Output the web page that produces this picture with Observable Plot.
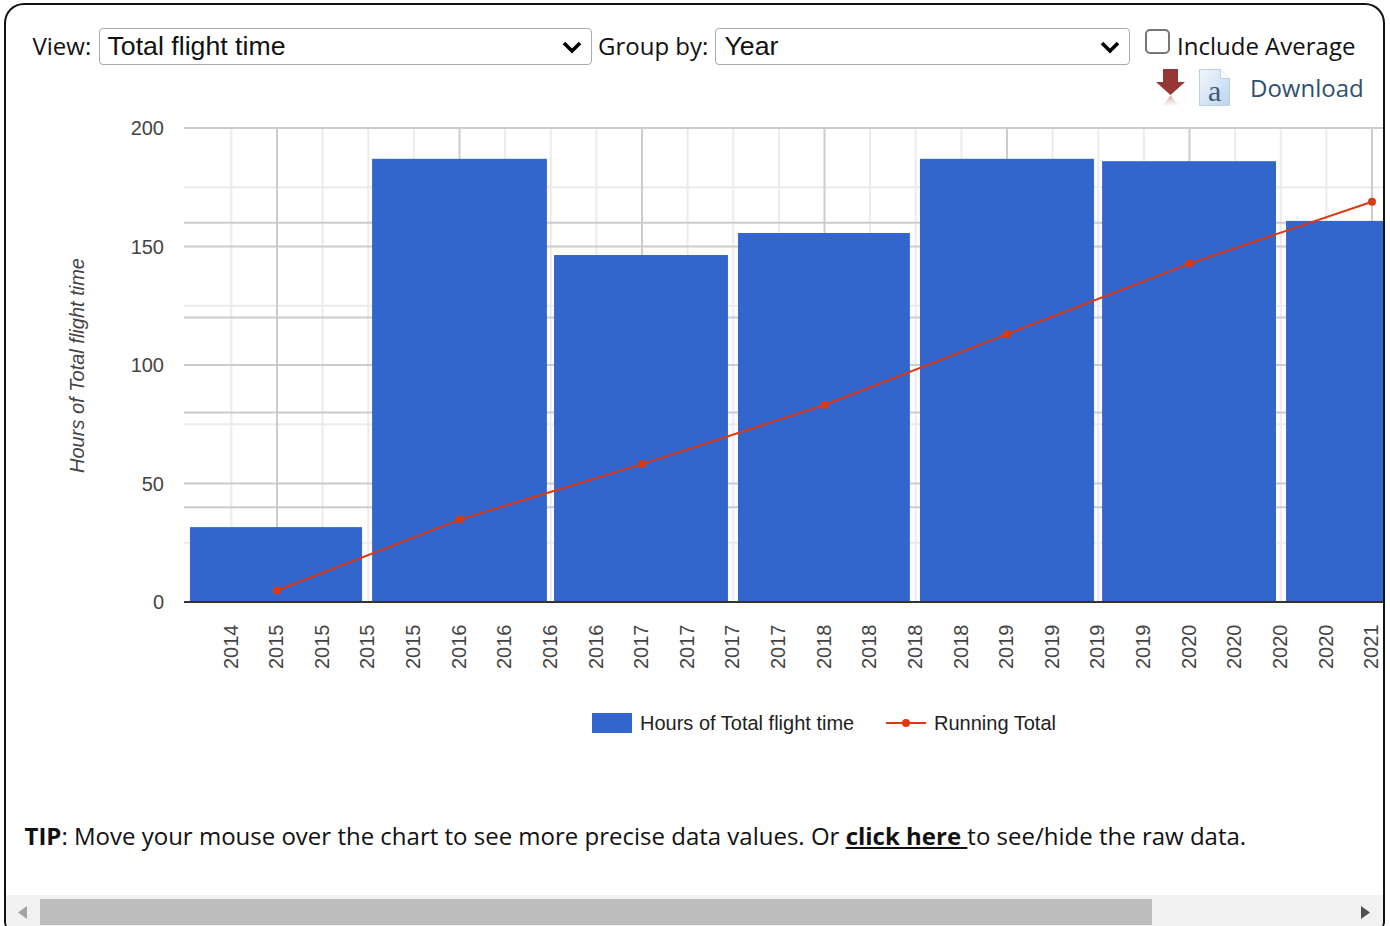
<!DOCTYPE html>
<html><head><meta charset="utf-8">
<script src="https://cdn.jsdelivr.net/npm/d3@7"></script>
<script src="https://cdn.jsdelivr.net/npm/@observablehq/plot@0.6"></script>
<style>
html,body{margin:0;padding:0;background:#fff;overflow:hidden}
#page{position:relative;width:1390px;height:926px;overflow:hidden;font-family:"Open Sans",sans-serif;color:#111}
#frame{position:absolute;left:4px;top:3px;width:1377px;border:2px solid #111;border-radius:20px 20px 0 0;pointer-events:none;z-index:5;border-bottom:0;height:925px;border-bottom-left-radius:8px;border-bottom-right-radius:8px}
.abs{position:absolute;white-space:nowrap}
.sel{position:absolute;box-sizing:border-box;height:37px;top:28px;border:1px solid #aaa;border-radius:4px;background:#fff;font:26.7px "Liberation Sans",Arial,sans-serif;color:#111;padding-left:8px;line-height:35px}
.sel svg{position:absolute;right:9px;top:11px}
#chart{position:absolute;left:0;top:0}
#chart svg{display:block;background:transparent}
#chart [aria-label="y-axis label"]{font-style:italic}
#legend{position:absolute;top:712px;left:592px;height:22px;font:20px "Liberation Sans",Arial,sans-serif;color:#222}
#sb{position:absolute;left:6px;top:895px;width:1377px;height:31px;background:#f1f1f1}
#thumb{position:absolute;left:34px;top:4px;width:1112px;height:26px;background:#bebebe}
</style></head><body>
<div id="page">
  <div class="abs" style="left:32.500px;top:27px;font-size:24px;line-height:37px">View:</div>
  <div class="sel" style="left:99px;width:493px;padding-left:7.500px">Total flight time<svg width="20" height="14" viewBox="0 0 20 14"><path d="M2 3l8 8 8-8" fill="none" stroke="#000" stroke-width="3.6"/></svg></div>
  <div class="abs" style="left:598px;top:27px;font-size:24px;line-height:37px">Group by:</div>
  <div class="sel" style="left:715px;width:415px;padding-left:8.500px">Year<svg width="20" height="14" viewBox="0 0 20 14"><path d="M2 3l8 8 8-8" fill="none" stroke="#000" stroke-width="3.6"/></svg></div>
  <div class="abs" style="left:1145px;top:29px;width:21px;height:21px;border:2px solid #767676;border-radius:5px;background:#fff"></div>
  <div class="abs" style="left:1177px;top:27px;font-size:24px;line-height:37px">Include Average</div>
  <svg class="abs" style="left:1155px;top:67px" width="32" height="42" viewBox="0 0 32 42">
    <defs><linearGradient id="fade" x1="0" y1="0" x2="0" y2="1"><stop offset="0" stop-color="#d9a9a7"/><stop offset="1" stop-color="#ffffff"/></linearGradient></defs>
    <path d="M8 2h15v13h7L15.500 28 1 15h7z" fill="#943634"/>
    <path d="M8 39h15v-3h-2l-5.500-8-5.500 8H8z" fill="url(#fade)"/>
  </svg>
  <svg class="abs" style="left:1198px;top:68px" width="34" height="40" viewBox="0 0 34 40">
    <defs><linearGradient id="docg" x1="0" y1="0" x2="1" y2="1"><stop offset="0" stop-color="#f3f7fc"/><stop offset="1" stop-color="#bcd4ee"/></linearGradient></defs>
    <path d="M1.500 1.500h21l9 9v27h-30z" fill="url(#docg)" stroke="#b9cfe8"/>
    <path d="M22.500 1.500v9h9" fill="#fff" stroke="#b9cfe8"/>
    <text x="10" y="33" font-family="Liberation Serif" font-size="30" fill="#3f5a7c">a</text>
  </svg>
  <div class="abs" style="left:1250px;top:69px;font-size:24px;line-height:37px;color:#2f5070">Download</div>
  <div id="chart"></div>
  <div id="legend"></div>
  <div class="abs" style="left:24.500px;top:817px;font-size:24px;line-height:37px;color:#111"><b>TIP</b>: Move your mouse over the chart to see more precise data values. Or <b style="text-decoration:underline">click here </b>to see/hide the raw data.</div>
  <div id="sb"><div id="thumb"></div>
    <svg class="abs" style="left:12px;top:11px" width="10" height="14"><path d="M9 0v13L0 6.500z" fill="#a3a3a3"/></svg>
    <svg class="abs" style="left:1355px;top:11px" width="10" height="14"><path d="M0 0v13l9-6.500z" fill="#505050"/></svg>
  </div>
  <div id="frame"></div>
</div>
<script>
const barStart = [2014.523, 2015.521, 2016.518, 2017.526, 2018.523, 2019.521, 2020.529];
const barEnd   = [2015.466, 2016.479, 2017.471, 2018.468, 2019.477, 2020.474, 2021.47];
const hours    = [31.6, 187, 146.4, 155.7, 187, 186, 160.8];
const pointYear = [2015, 2016, 2017, 2018, 2019, 2020, 2021];
const runningTotal = [31.6, 218.6, 365, 520.7, 707.7, 893.7, 1057];
const secondaryMax = 1250;
const primaryMax = 200;
const yTicks = [0, 50, 100, 150, 200];
const yMinor = [25, 75, 125, 175];
const secondaryGrid = [250, 500, 750, 1000];
const xMajor = [2015, 2016, 2017, 2018, 2019, 2020, 2021];
const xMinor = [2014.75, 2015.25, 2015.5, 2015.75, 2016.25, 2016.5, 2016.75, 2017.25, 2017.5, 2017.75, 2018.25, 2018.5, 2018.75, 2019.25, 2019.5, 2019.75, 2020.25, 2020.5, 2020.75];
const xTickValues = [...xMinor, ...xMajor].sort((a, b) => a - b);

const toPrimary = v => v * primaryMax / secondaryMax;
const bars = hours.map((h, i) => ({x1: barStart[i], x2: barEnd[i], y: h}));
const points = runningTotal.map((r, i) => ({x: pointYear[i], y: toPrimary(r)}));

const chart = Plot.plot({
  width: 1390, height: 690,
  marginLeft: 184, marginRight: 7, marginTop: 128, marginBottom: 88,
  style: {fontFamily: '"Liberation Sans", Arial, sans-serif', fontSize: "20px", background: "transparent", overflow: "visible"},
  x: {domain: [2014.4904, 2021.0603], axis: null},
  y: {domain: [0, primaryMax], axis: null},
  marks: [
    Plot.ruleX(xMinor, {stroke: "#ebebeb", strokeWidth: 2, dx: -0.5}),
    Plot.ruleY(yMinor, {stroke: "#ebebeb", strokeWidth: 2, dy: -0.5}),
    Plot.ruleX(xMajor, {stroke: "#cccccc", strokeWidth: 2, dx: -0.5}),
    Plot.ruleY(secondaryGrid.map(toPrimary), {stroke: "#cccccc", strokeWidth: 2, dy: -0.5}),
    Plot.ruleY(yTicks.slice(1), {stroke: "#cccccc", strokeWidth: 2, dy: -0.5}),
    Plot.rectY(bars, {x1: "x1", x2: "x2", y: "y", fill: "#3366cc", clip: true}),
    Plot.ruleY([0], {stroke: "#333333", strokeWidth: 2, dy: -0.5}),
    Plot.line(points, {x: "x", y: "y", stroke: "#dc3912", strokeWidth: 2, dx: -0.5}),
    Plot.dot(points, {x: "x", y: "y", r: 4, fill: "#dc3912", dx: -0.5}),
    Plot.axisY({ticks: yTicks, tickSize: 0, tickPadding: 20.5, dy: 0.4, label: "Hours of Total flight time", labelAnchor: "center", labelArrow: "none", labelOffset: 115, fill: "#444"}),
    Plot.axisX({ticks: xTickValues, tickSize: 0, tickRotate: -90, tickPadding: 22, dx: -0.7, tickFormat: d => String(Math.floor(d)), label: null, fill: "#444"})
  ]
});
document.getElementById("chart").append(chart);

const legendItems = [
  {label: "Hours of Total flight time", color: "#3366cc", kind: "bar"},
  {label: "Running Total", color: "#dc3912", kind: "line"}
];
const lg = d3.select("#legend");
lg.append("div").style("position","absolute").style("left","0").style("top","1px").style("width","40px").style("height","20px").style("background",legendItems[0].color);
lg.append("div").style("position","absolute").style("left","48px").style("top","0").style("white-space","nowrap").style("line-height","22px").text(legendItems[0].label);
lg.append("svg").style("position","absolute").style("left","294px").style("top","1px").attr("width",40).attr("height",20)
  .html(`<path d="M0 10H40" stroke="${legendItems[1].color}" stroke-width="2"/><circle cx="20" cy="10" r="4" fill="${legendItems[1].color}"/>`);
lg.append("div").style("position","absolute").style("left","342px").style("top","0").style("white-space","nowrap").style("line-height","22px").text(legendItems[1].label);
</script>
</body></html>
